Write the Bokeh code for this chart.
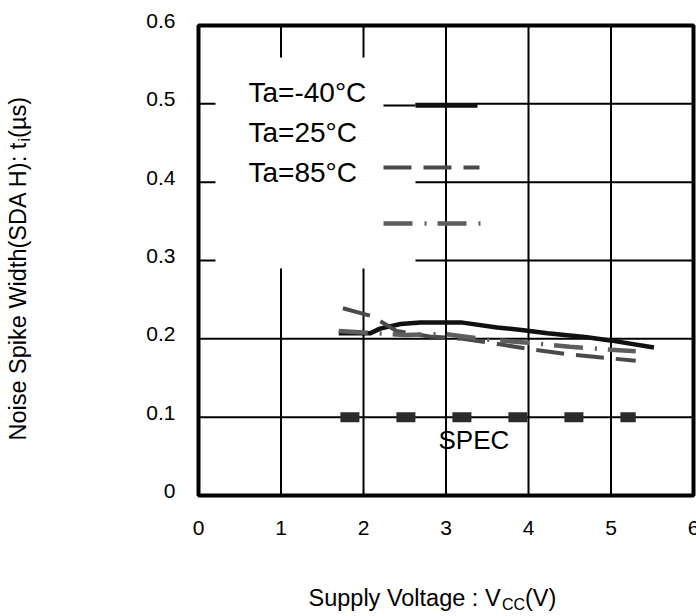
import math
from bokeh.plotting import figure
from bokeh.models import Range1d
from bokeh.core.properties import value
from bokeh.embed import file_html
from bokeh.resources import INLINE

# ---- data ----
x_ticks = [0, 1, 2, 3, 4, 5, 6]
x_tick_labels = ["0", "1", "2", "3", "4", "5", "6"]
y_ticks = [0, 0.1, 0.2, 0.3, 0.4, 0.5, 0.6]
y_tick_labels = ["0", "0.1", "0.2", "0.3", "0.4", "0.5", "0.6"]

legend_labels = ["Ta=-40\u00b0C", "Ta=25\u00b0C", "Ta=85\u00b0C"]

vcc_m40 = [1.70, 2.08, 2.20, 2.45, 2.69, 3.18, 3.62, 3.94, 4.23, 4.71, 4.99, 5.52]
tw_m40 = [0.207, 0.207, 0.213, 0.219, 0.221, 0.221, 0.2145, 0.211, 0.207, 0.202, 0.198, 0.189]

vcc_25 = [1.75, 2.10, 2.40, 2.80, 3.20, 3.60, 4.00, 4.50, 5.00, 5.30]
tw_25 = [0.239, 0.229, 0.210, 0.203, 0.200, 0.194, 0.187, 0.180, 0.175, 0.172]

vcc_85 = [1.70, 2.00, 2.50, 3.00, 3.50, 4.00, 4.50, 5.00, 5.30]
tw_85 = [0.210, 0.208, 0.205, 0.206, 0.199, 0.195, 0.190, 0.186, 0.184]

spec_v = [1.72, 5.30]
spec_t = [0.1, 0.1]
spec_label = "SPEC"

x_title = ["Supply Voltage : V", "CC", "(V)"]
y_title = ["Noise Spike Width(SDA H): t", "i", "(\u00b5s)"]

# ---- layout (pixel geometry of the canvas) ----
W, H = 696, 616
X0, XS = 198.0, 82.5          # px of V=0, px per volt
Y0, YS = 495.0, 470.0 / 0.6   # px of t=0, px per microsecond


def vx(px):
    return (px - X0) / XS


def ty(py):
    return (Y0 - py) / YS


SANS = "Liberation Sans"

p = figure(width=W, height=H, output_backend="svg", toolbar_location=None,
           x_range=Range1d(vx(0), vx(W)), y_range=Range1d(ty(H), ty(0)),
           x_axis_location=None, y_axis_location=None, min_border=0,
           background_fill_color="white", border_fill_color="white")
p.outline_line_color = None
p.grid.visible = False

x0, x1 = x_ticks[0], x_ticks[-1]
y0, y1 = y_ticks[0], y_ticks[-1]

# grid
p.segment(x0=x_ticks[1:-1], y0=[y0] * 5, x1=x_ticks[1:-1], y1=[y1] * 5,
          line_color="black", line_width=2)
p.segment(x0=[x0] * 5, y0=y_ticks[1:-1], x1=[x1] * 5, y1=y_ticks[1:-1],
          line_color="black", line_width=2)

# white mask behind the legend block
p.quad(left=[vx(215)], right=[vx(415)], bottom=[ty(268)], top=[ty(57)],
       fill_color="white", line_color=None)

# curves
p.line(vcc_m40, tw_m40, line_color="#111111", line_width=4.5)
p.line(vcc_25, tw_25, line_color="#4a4a4a", line_width=4, line_dash="28 12")
p.line(vcc_85, tw_85, line_color="#5e5e5e", line_width=4.5, line_dash="29 12 2 11")

# spec
p.line(spec_v, spec_t, line_color="#2b2b2b", line_width=10, line_dash="19 37")
p.text(x=[vx(438)], y=[ty(439.5)], text=[spec_label], text_font=value(SANS),
       text_font_size="26px", text_color="black", text_baseline="middle")

# legend
p.text(x=[vx(248)] * 3, y=[ty(91.5), ty(132), ty(172)], text=legend_labels,
       text_font=value(SANS), text_font_size="28px", text_color="black",
       text_baseline="middle")
p.line([vx(383), vx(415)], [ty(105)] * 2, line_color="black", line_width=2)
p.line([vx(415), vx(477)], [ty(105)] * 2, line_color="#111111", line_width=4.5)
p.line([vx(383), vx(479)], [ty(167)] * 2, line_color="#4a4a4a", line_width=4,
       line_dash="28 12")
p.line([vx(383), vx(481)], [ty(223)] * 2, line_color="#5e5e5e", line_width=4.5,
       line_dash="29 12 2 11")

# plot box
p.quad(left=[x0], right=[x1], bottom=[y0], top=[y1], fill_color=None,
       line_color="black", line_width=4)

# tick labels
p.text(x=x_ticks, y=[ty(527)] * len(x_ticks), text=x_tick_labels,
       text_font=value(SANS), text_font_size="21px", text_color="black",
       text_align="center", text_baseline="middle")
p.text(x=[vx(175)] * len(y_ticks), y=y_ticks, text=y_tick_labels,
       text_font=value(SANS), text_font_size="21px", text_color="black",
       text_align="right", text_baseline="middle", y_offset=-4.5)

# axis titles (with subscripts)
fs, fs_sub = "23.5px", "16px"
p.text(x=[vx(308)], y=[ty(597)], text=[x_title[0]], text_font=value(SANS),
       text_font_size=fs, text_baseline="middle", text_color="black")
p.text(x=[vx(501.5)], y=[ty(604)], text=[x_title[1]], text_font=value(SANS),
       text_font_size=fs_sub, text_baseline="middle", text_color="black")
p.text(x=[vx(524.5)], y=[ty(597)], text=[x_title[2]], text_font=value(SANS),
       text_font_size=fs, text_baseline="middle", text_color="black")

p.text(x=[vx(17)], y=[ty(440)], text=[y_title[0]], text_font=value(SANS),
       text_font_size=fs, text_baseline="middle", angle=math.pi / 2,
       text_color="black")
p.text(x=[vx(24)], y=[ty(141)], text=[y_title[1]], text_font=value(SANS),
       text_font_size=fs_sub, text_baseline="middle", angle=math.pi / 2,
       text_color="black")
p.text(x=[vx(17)], y=[ty(137.4)], text=[y_title[2]], text_font=value(SANS),
       text_font_size=fs, text_baseline="middle", angle=math.pi / 2,
       text_color="black")

open("out.html", "w").write(file_html(p, INLINE))
